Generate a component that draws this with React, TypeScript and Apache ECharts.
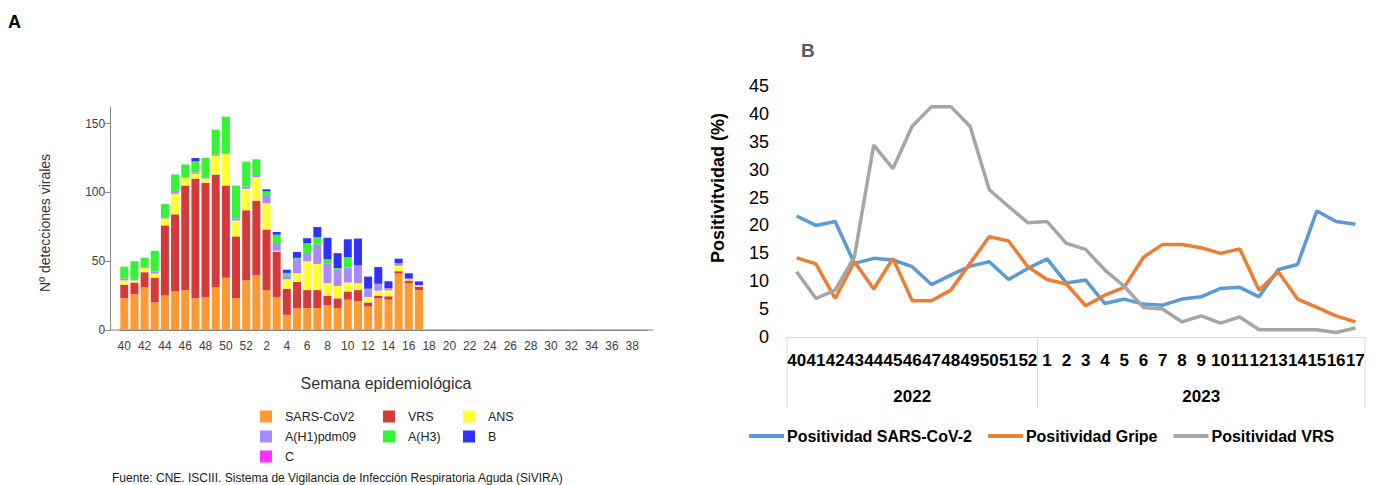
import React, { useEffect, useRef } from "react";
import * as echarts from "echarts";

// ---------- Panel A data (weekly viral detections, stacked) ----------
const weeksA = [
  "40", "41", "42", "43", "44", "45", "46", "47", "48", "49", "50", "51", "52",
  "1", "2", "3", "4", "5", "6", "7", "8", "9", "10", "11", "12", "13", "14", "15", "16", "17",
  "18", "19", "20", "21", "22", "23", "24", "25", "26", "27", "28", "29", "30", "31", "32",
  "33", "34", "35", "36", "37", "38", "39",
];
const sarsCov2 = [23, 26, 31, 20, 25, 28, 29, 23, 24, 31, 38, 23, 36, 40, 29, 24, 11, 16, 16, 16, 18, 16, 22, 21, 17, 23, 22, 41, 34, 29];
const vrs = [10, 8.5, 11, 18, 51, 56, 76, 87, 83, 82, 67, 45, 51, 54, 44, 33, 19, 19, 13, 13, 7, 7, 6, 8, 3, 2, 2.5, 1.7, 2, 2.6];
const ans = [3, 1.5, 3, 3, 5, 15, 5.5, 3.5, 3, 13.5, 23, 11.5, 15.5, 17, 19, 0.6, 6.8, 6.3, 21, 19, 9, 9, 6.5, 5, 4, 3.6, 4.3, 4, 0.8, 1];
const h1pdm09 = [1.5, 1, 0.5, 1.5, 1, 2, 0.5, 1, 1, 1, 0, 1.7, 1.7, 1.6, 6, 5.6, 2.8, 10.5, 6, 14, 14, 12, 11, 13, 5, 5, 1.7, 1.9, 0.6, 0];
const h3 = [8.5, 13, 7, 15, 9.5, 12, 9.3, 8, 14, 18, 27, 23.7, 18.2, 11.4, 2.7, 6, 1.9, 0.6, 7, 5.5, 3.5, 1, 7.4, 0, 1, 0, 0, 0, 0, 0];
const fluB = [0, 0, 0, 0, 0, 0, 0, 2.4, 0, 0, 0, 0, 0, 0, 1.5, 2, 2.3, 4.3, 3.7, 7.3, 15.5, 10.8, 13, 19.4, 8.8, 12.1, 4.9, 3.2, 3.8, 2.7];
const fluC = [0, 0, 0, 0, 0, 0, 0, 0, 0, 0, 0, 0, 0, 0, 0, 0, 0, 0, 0, 0, 0, 0, 0, 0, 0, 0, 0, 0, 0, 0];
const yTicksA = [0, 50, 100, 150];

// ---------- Panel B data (positivity %) ----------
const weeksB = [
  "40", "41", "42", "43", "44", "45", "46", "47", "48", "49", "50", "51", "52",
  "1", "2", "3", "4", "5", "6", "7", "8", "9", "10", "11", "12", "13", "14", "15", "16", "17",
];
const years = ["2022", "2023"];
const weeksPerYear = [13, 17];
const posSars = [21.7, 20.0, 20.7, 13.2, 14.1, 13.8, 12.6, 9.4, 11.1, 12.7, 13.5, 10.3, 12.3, 14.0, 9.7, 10.2, 6.0, 6.8, 5.9, 5.7, 6.8, 7.2, 8.7, 8.9, 7.2, 12.1, 13.0, 22.6, 20.7, 20.2];
const posGripe = [14.2, 13.1, 6.9, 13.5, 8.6, 14.1, 6.5, 6.5, 8.4, 13.2, 18.0, 17.2, 12.6, 10.3, 9.5, 5.6, 7.5, 8.9, 14.3, 16.6, 16.6, 16.0, 15.0, 15.8, 8.4, 11.7, 6.8, 5.3, 3.8, 2.7];
const posVrs = [11.7, 6.9, 8.4, 14.4, 34.4, 30.2, 37.8, 41.3, 41.3, 37.8, 26.4, 23.4, 20.5, 20.7, 16.8, 15.7, 12.0, 9.1, 5.3, 5.0, 2.7, 3.8, 2.5, 3.6, 1.3, 1.3, 1.3, 1.3, 0.8, 1.6];

const FONT = "'Liberation Sans', Arial, sans-serif";

// layout
const A_LEFT = 119.2;
const A_WIDTH = 528.3;
const A_TOP = 107;
const A_BASE = 330;
const B_LEFT = 787;
const B_WIDTH = 578;
const B_TOP = 86;
const B_HEIGHT = 251;

export default function App() {
  const ref = useRef<HTMLDivElement>(null);

  useEffect(() => {
    if (!ref.current) return;
    const chart = echarts.init(ref.current, null, { renderer: "svg" });

    // year label index: centre of each year's block of weeks
    const yearAt: Record<number, string> = {};
    let start = 0;
    const boundaries: number[] = [0];
    weeksPerYear.forEach((n, k) => {
      yearAt[Math.floor(start + (n - 1) / 2)] = years[k];
      start += n;
      boundaries.push(start);
    });
    const bandB = B_WIDTH / weeksB.length;
    const dividerLines = boundaries.map((b) => ({
      type: "line",
      shape: { x1: B_LEFT + b * bandB, y1: B_TOP + B_HEIGHT, x2: B_LEFT + b * bandB, y2: B_TOP + B_HEIGHT + 71 },
      style: { stroke: "#D9D9D9", lineWidth: 1 },
      silent: true,
    }));

    const barSeries = [
      { name: "SARS-CoV2", data: sarsCov2, color: "#FF9933" },
      { name: "VRS", data: vrs, color: "#D43A3A" },
      { name: "ANS", data: ans, color: "#FFFF33" },
      { name: "A(H1)pdm09", data: h1pdm09, color: "#A98BFF" },
      { name: "A(H3)", data: h3, color: "#33F533" },
      { name: "B", data: fluB, color: "#3030FF" },
      { name: "C", data: fluC, color: "#FF33FF" },
    ].map((s) => ({
      name: s.name,
      type: "bar",
      stack: "det",
      xAxisIndex: 0,
      yAxisIndex: 0,
      data: s.data,
      barWidth: 8,
      itemStyle: { color: s.color },
    }));

    const lineSeries = [
      { name: "Positividad SARS-CoV-2", data: posSars, color: "#5B9BD5" },
      { name: "Positividad Gripe", data: posGripe, color: "#ED7D31" },
      { name: "Positividad VRS", data: posVrs, color: "#A5A5A5" },
    ].map((s) => ({
      name: s.name,
      type: "line",
      xAxisIndex: 1,
      yAxisIndex: 1,
      data: s.data,
      symbol: "none",
      color: s.color,
      lineStyle: { width: 3.5, color: s.color },
    }));

    const legendA = (left: number, data: string[]) => ({
      left,
      top: 405,
      orient: "vertical",
      data,
      icon: "rect",
      itemWidth: 12,
      itemHeight: 12,
      itemGap: 7,
      textStyle: { fontFamily: FONT, fontSize: 12.5, color: "#222", padding: [0, 0, 0, 8] },
    });

    chart.setOption({
      animation: false,
      grid: [
        { left: A_LEFT, top: A_TOP, width: A_WIDTH, height: A_BASE - A_TOP },
        { left: B_LEFT, top: B_TOP, width: B_WIDTH, height: B_HEIGHT },
      ],
      xAxis: [
        {
          type: "category",
          gridIndex: 0,
          data: weeksA,
          axisLine: { lineStyle: { color: "#868686" } },
          axisTick: { alignWithLabel: true, interval: 0, length: 5, lineStyle: { color: "#868686" } },
          axisLabel: { interval: 1, color: "#404040", fontSize: 12, margin: 10, fontFamily: FONT },
        },
        {
          type: "category",
          gridIndex: 1,
          data: weeksB,
          axisLine: { lineStyle: { color: "#D9D9D9" } },
          axisTick: { show: false },
          axisLabel: { interval: 0, color: "#000", fontSize: 17, fontWeight: "bold", margin: 15, fontFamily: FONT },
        },
        {
          type: "category",
          gridIndex: 1,
          data: weeksB,
          position: "bottom",
          axisLine: { show: false },
          axisTick: { show: false },
          axisLabel: {
            interval: 0,
            color: "#000",
            fontSize: 17,
            fontWeight: "bold",
            margin: 51,
            fontFamily: FONT,
            formatter: (_v: string, i: number) => yearAt[i] || "",
          },
        },
      ],
      yAxis: [
        {
          type: "value",
          gridIndex: 0,
          min: 0,
          max: 162,
          offset: 9,
          axisLine: { show: true, lineStyle: { color: "#868686" } },
          axisTick: { show: true, length: 5, customValues: yTicksA, lineStyle: { color: "#868686" } },
          axisLabel: { customValues: yTicksA, color: "#404040", fontSize: 12, margin: 5, fontFamily: FONT },
          splitLine: { show: false },
        },
        {
          type: "value",
          gridIndex: 1,
          min: 0,
          max: 45,
          interval: 5,
          axisLine: { show: false },
          axisTick: { show: false },
          axisLabel: { color: "#000", fontSize: 18, margin: 18, fontFamily: FONT },
          splitLine: { show: false },
        },
      ],
      legend: [
        legendA(255, ["SARS-CoV2", "A(H1)pdm09", "C"]),
        legendA(378, ["VRS", "A(H3)"]),
        legendA(458, ["ANS", "B"]),
        {
          left: 744,
          top: 423,
          orient: "horizontal",
          data: lineSeries.map((s) => s.name),
          icon: "rect",
          itemWidth: 35,
          itemHeight: 4,
          itemGap: 16,
          textStyle: { fontFamily: FONT, fontSize: 16, fontWeight: "bold", color: "#000", padding: [0, 0, 0, -2] },
        },
      ],
      graphic: [
        {
          type: "line",
          shape: { x1: A_LEFT - 9, y1: A_BASE, x2: A_LEFT + A_WIDTH + 6, y2: A_BASE },
          style: { stroke: "#868686", lineWidth: 1 },
          silent: true,
        },
        ...dividerLines,
        {
          type: "text",
          x: 8,
          y: 22,
          style: { text: "A", font: `bold 18px ${FONT}`, fill: "#000", textVerticalAlign: "middle" },
        },
        {
          type: "text",
          x: 801,
          y: 50,
          style: { text: "B", font: `bold 19px ${FONT}`, fill: "#595959", textVerticalAlign: "middle" },
        },
        {
          type: "text",
          x: 45,
          y: 223,
          rotation: Math.PI / 2,
          style: {
            text: "Nº detecciones virales",
            font: `14px ${FONT}`,
            fill: "#333",
            textAlign: "center",
            textVerticalAlign: "middle",
          },
        },
        {
          type: "text",
          x: 386,
          y: 383,
          style: {
            text: "Semana epidemiológica",
            font: `16px ${FONT}`,
            fill: "#333",
            textAlign: "center",
            textVerticalAlign: "middle",
          },
        },
        {
          type: "text",
          x: 718,
          y: 188,
          rotation: Math.PI / 2,
          style: {
            text: "Positivitvidad (%)",
            font: `bold 18px ${FONT}`,
            fill: "#000",
            textAlign: "center",
            textVerticalAlign: "middle",
          },
        },
        {
          type: "text",
          x: 112,
          y: 478,
          style: {
            text: "Fuente: CNE. ISCIII. Sistema de Vigilancia de Infección Respiratoria Aguda (SiVIRA)",
            font: `12px ${FONT}`,
            fill: "#222",
            textVerticalAlign: "middle",
          },
        },
      ],
      series: [...barSeries, ...lineSeries],
    });

    return () => chart.dispose();
  }, []);

  return (
    <div
      ref={ref}
      style={{ position: "fixed", left: 0, top: 0, width: 1377, height: 485, background: "#fff" }}
    />
  );
}
